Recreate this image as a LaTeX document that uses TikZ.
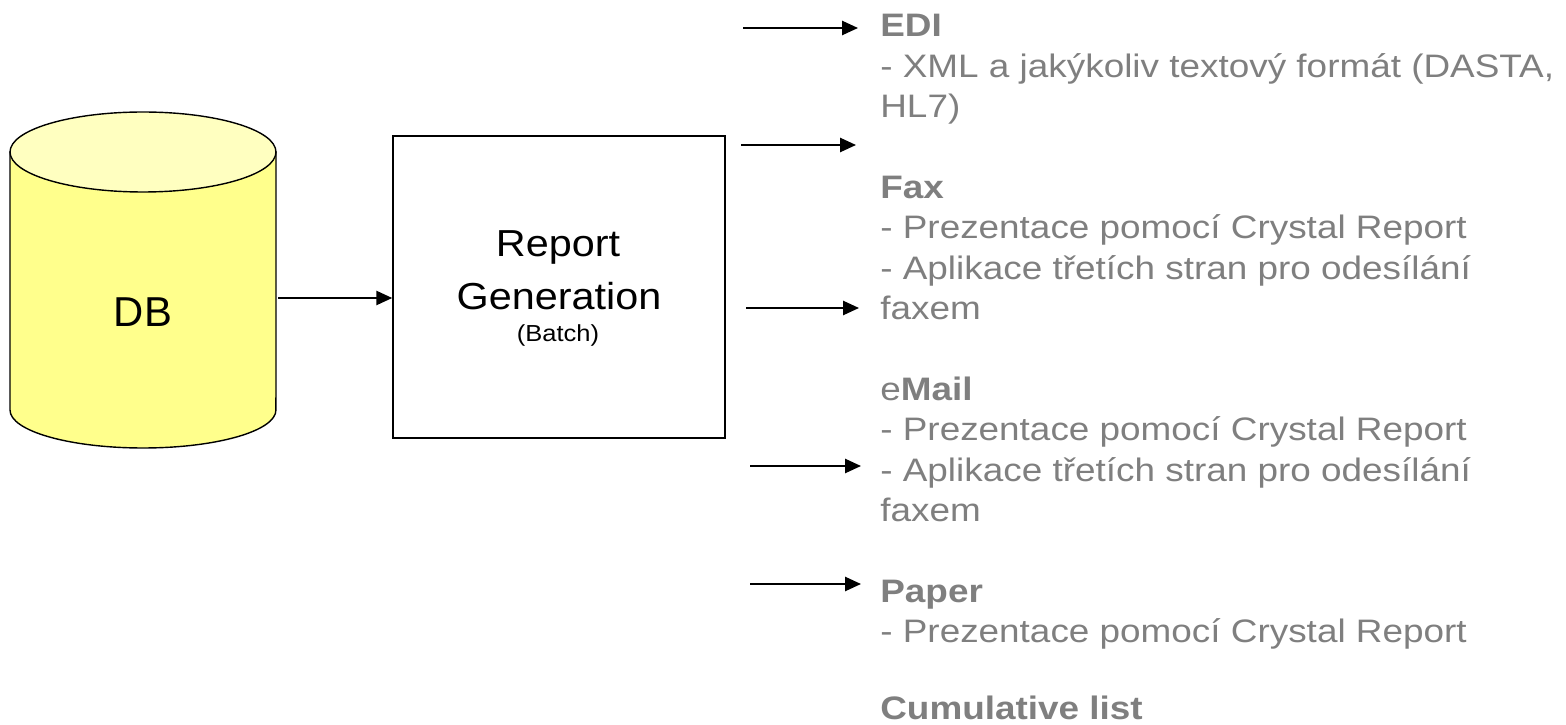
\documentclass[tikz,border=0pt]{standalone}
\usepackage{fontspec}
\setmainfont{Liberation Sans}
\newfontfamily\sidefont[FakeStretch=1.135]{Liberation Sans}
\newfontfamily\boxfont[FakeStretch=1.1]{Liberation Sans}
\usetikzlibrary{arrows.meta}
\definecolor{txtgray}{HTML}{7F7F7F}
\definecolor{cylbody}{HTML}{FFFF8C}
\definecolor{cyltop}{HTML}{FFFFC0}
\tikzset{
  arr/.style={line width=1.1pt, -{Triangle[length=9pt,width=8pt]}},
  side/.style={anchor=base west, inner sep=0pt, text=txtgray, font=\sidefont\fontsize{18.5}{22}\selectfont},
  boxtxt/.style={anchor=base, inner sep=0pt, text=black},
}
\begin{document}
\begin{tikzpicture}[x=0.02cm,y=0.02cm]
\useasboundingbox (0,0) rectangle (1566,724);
% cylinder
\draw[line width=0.8pt, fill=cylbody] (10,572) -- (10,314)
   arc[start angle=180,end angle=360,x radius=2.66cm,y radius=0.76cm] -- (276,572) -- cycle;
\draw[line width=0.8pt, fill=cyltop] (143,572) ellipse[x radius=2.66cm,y radius=0.8cm];
\node[boxtxt, font=\fontsize{23.8}{28}\selectfont] (db) at (143,397) {DB};
\coordinate (dbr) at (278,426);
% box
\node[draw, line width=0.9pt, minimum width=6.64cm, minimum height=6.04cm, inner sep=0pt] (box) at (559,437) {};
\node[boxtxt, font=\boxfont\fontsize{21.4}{25}\selectfont] (rep) at (558,467) {Report};
\node[boxtxt, font=\boxfont\fontsize{21.4}{25}\selectfont] (gen) at (559,414) {Generation};
\node[boxtxt, font=\boxfont\fontsize{13.2}{16}\selectfont] (bat) at (558,382) {(Batch)};
\draw[arr] (dbr) -- (dbr -| box.west);
% right arrows
\coordinate (a1s) at (743,696); \coordinate (a1e) at (858,696);
\coordinate (a2s) at (741,579); \coordinate (a2e) at (856,579);
\coordinate (a3s) at (746,416); \coordinate (a3e) at (859,416);
\coordinate (a4s) at (750,258); \coordinate (a4e) at (861,258);
\coordinate (a5s) at (750,140); \coordinate (a5e) at (861,140);
\draw[arr] (a1s) -- (a1e);
\draw[arr] (a2s) -- (a2e);
\draw[arr] (a3s) -- (a3e);
\draw[arr] (a4s) -- (a4e);
\draw[arr] (a5s) -- (a5e);
% side text, baseline py = 36.7 + k*40.4  ->  y = 724 - py
\node[side] (t0)  at (880,687.3) {\textbf{EDI}};
\node[side] (t1)  at (880,646.9) {- XML a jakýkoliv textový formát (DASTA,};
\node[side] (t2)  at (880,606.5) {HL7)};
\node[side] (t4)  at (880,525.7) {\textbf{Fax}};
\node[side] (t5)  at (880,485.3) {- Prezentace pomocí Crystal Report};
\node[side] (t6)  at (880,444.9) {- Aplikace třetích stran pro odesílání};
\node[side] (t7)  at (880,404.5) {faxem};
\node[side] (t9)  at (880,323.7) {e\textbf{Mail}};
\node[side] (t10) at (880,283.3) {- Prezentace pomocí Crystal Report};
\node[side] (t11) at (880,242.9) {- Aplikace třetích stran pro odesílání};
\node[side] (t12) at (880,202.5) {faxem};
\node[side] (t14) at (880,121.7) {\textbf{Paper}};
\node[side] (t15) at (880,81.3)  {- Prezentace pomocí Crystal Report};
\node[side, text depth=0pt] (t17) at (880,4.5) {\textbf{Cumulative list}};
\end{tikzpicture}
\end{document}
